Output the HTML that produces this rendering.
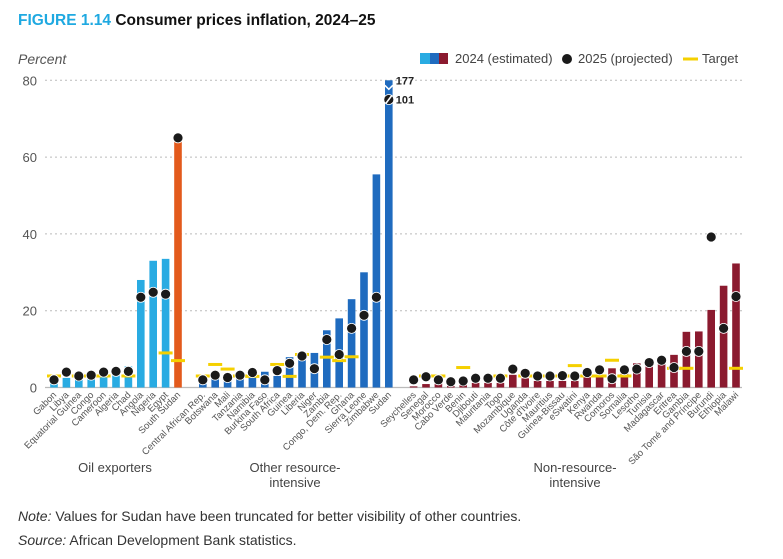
<!DOCTYPE html>
<html><head><meta charset="utf-8">
<style>
body{margin:0;background:#fff;width:783px;height:554px;overflow:hidden;font-family:"Liberation Sans",Arial,sans-serif;}
svg text{font-family:"Liberation Sans",Arial,sans-serif;}
</style></head>
<body>
<svg id="chart" width="783" height="554" xmlns="http://www.w3.org/2000/svg">
<text x="18" y="25" font-size="15.5" font-weight="bold" fill="#111"><tspan fill="#1fa9e1">FIGURE 1.14</tspan> Consumer prices inflation, 2024–25</text>
<text x="18" y="64" font-size="14" font-style="italic" fill="#555">Percent</text>
<g>
<rect x="420" y="53" width="10" height="11" fill="#29abe2"/><rect x="430" y="53" width="9" height="11" fill="#1f6bbf"/><rect x="439" y="53" width="9" height="11" fill="#8b1a2f"/>
<text x="455" y="63" font-size="13" fill="#444">2024 (estimated)</text>
<circle cx="567" cy="59" r="5" fill="#1a1a1a"/>
<text x="578" y="63" font-size="13" fill="#444">2025 (projected)</text>
<rect x="683" y="57.5" width="15" height="3" fill="#f5d000"/>
<text x="702" y="63" font-size="13" fill="#444">Target</text>
</g>
<g id="grid"></g>
<g id="bars"></g>
<g id="marks"></g>
<g id="xlabels"></g>
<text x="115" y="472" font-size="13" fill="#444" text-anchor="middle">Oil exporters</text>
<text x="295" y="472" font-size="13" fill="#444" text-anchor="middle">Other resource-</text>
<text x="295" y="487" font-size="13" fill="#444" text-anchor="middle">intensive</text>
<text x="575" y="472" font-size="13" fill="#444" text-anchor="middle">Non-resource-</text>
<text x="575" y="487" font-size="13" fill="#444" text-anchor="middle">intensive</text>
<text x="18" y="521" font-size="14" fill="#333"><tspan font-style="italic">Note:</tspan> Values for Sudan have been truncated for better visibility of other countries.</text>
<text x="18" y="545" font-size="14" fill="#333"><tspan font-style="italic">Source:</tspan> African Development Bank statistics.</text>
</svg>
<script>
const countries=["Gabon","Libya","Equatorial Guinea","Congo","Cameroon","Algeria","Chad","Angola","Nigeria","Egypt","South Sudan",
"Central African Rep.","Botswana","Mali","Tanzania","Namibia","Burkina Faso","South Africa","Guinea","Liberia","Niger","Zambia","Congo, Dem. Rep.","Ghana","Sierra Leone","Zimbabwe","Sudan",
"Seychelles","Senegal","Morocco","Cabo Verde","Benin","Djibouti","Mauritania","Togo","Mozambique","Uganda","Côte d'Ivoire","Mauritius","Guinea-Bissau","eSwatini","Kenya","Rwanda","Comoros","Somalia","Lesotho","Tunisia","Madagascar","Eritrea","Gambia","São Tomé and Príncipe","Burundi","Ethiopia","Malawi"];
const groups=[0,0,0,0,0,0,0,0,0,0,0, 1,1,1,1,1,1,1,1,1,1,1,1,1,1,1,1, 2,2,2,2,2,2,2,2,2,2,2,2,2,2,2,2,2,2,2,2,2,2,2,2,2,2,2];
const v2024=[1.5,2.5,2,3,3.5,4,5.5,28,33,33.5,65,
1.2,2.3,1.8,2.3,2.8,4.1,3,7.9,8.8,9,14.9,18,23,30,55.5,177,
0.3,0.9,1,0.4,0.6,1.2,1.2,1.2,3.3,2.4,1.7,1.7,1.7,1.7,2.8,3.3,5,4,6.3,5.9,6.1,8.5,14.5,14.6,20.2,26.5,32.3];
const v2025=[2,4,3,3.2,4,4.2,4.2,23.5,24.8,24.3,65,
2,3.2,2.6,3.2,3.9,2,4.4,6.3,8.2,4.9,12.5,8.6,15.4,18.8,23.5,101,
2,2.8,2,1.5,1.7,2.4,2.4,2.4,4.8,3.7,3,3,3.1,3,3.9,4.6,2.3,4.6,4.8,6.5,7.1,5.2,9.4,9.4,39.2,15.4,23.7];
const targets=[3,null,3,3,3,null,3,null,null,9,7,
3,6,4.8,3,2.9,null,6,2.9,8.6,null,7.9,7,8,null,null,null,
null,3,3,null,5.2,null,null,3,null,3,3,null,3,5.7,3,3,7.1,3,null,null,null,5,5,null,null,null,5];
const yTicks=[0,20,40,60,80];
const colors=["#29abe2","#1f6bbf","#8b1a2f"];
const NS="http://www.w3.org/2000/svg";
const Y0=387.5,PX=3.84,X0=54,STEP=12.4,YMAX=80;
function y(v){return Y0-Math.min(v,YMAX)*PX;}
function xpos(i){return X0+(i+groups[i])*STEP;}
function mk(t,a,p){const e=document.createElementNS(NS,t);for(const k in a)e.setAttribute(k,a[k]);p.appendChild(e);return e;}
const grid=document.getElementById('grid');
yTicks.forEach(t=>{
 if(t>0){const l=mk('line',{x1:45,x2:742,y1:y(t),y2:y(t),stroke:'#bbb','stroke-dasharray':'2,3'},grid);
 
 }
 const tx=mk('text',{x:37,y:y(t)+5,'font-size':13,fill:'#555','text-anchor':'end'},grid);tx.textContent=t;
 
 
});
const base=mk('line',{x1:45,x2:742,y1:Y0,y2:Y0,stroke:'#bbb','stroke-width':1.2},grid);


const bars=document.getElementById('bars'),marks=document.getElementById('marks'),xl=document.getElementById('xlabels');
countries.forEach((c,i)=>{
 const x=xpos(i);
 const col=c==="South Sudan"?"#e35a1c":colors[groups[i]];
 const b=mk('rect',{x:x-3.8,y:y(v2024[i]),width:7.6,height:Y0-y(v2024[i]),fill:col},bars);
 
 
 if(targets[i]!==null){const t=mk('rect',{x:x-7,y:y(targets[i])-1.5,width:14,height:3,fill:'#f5d000'},marks);
 
 }
 let dv=v2025[i]>YMAX?75:v2025[i];
 const d=mk('circle',{cx:x,cy:y(dv),r:5,fill:'#1a1a1a',stroke:'#fff','stroke-width':0.8},marks);
 
 
 const lb=mk('text',{x:x+3,y:Y0+8,'font-size':9.5,fill:'#555','text-anchor':'end',transform:`rotate(-45 ${x+3} ${Y0+8})`},xl);
 lb.textContent=c;
 
 
 if(v2024[i]>YMAX){
  mk('polyline',{points:`${x-4},${y(YMAX)+5} ${x},${y(YMAX)+9} ${x+4},${y(YMAX)+5}`,fill:'none',stroke:'#fff','stroke-width':1.5},marks);
  const a=mk('text',{x:x+7,y:y(YMAX)+4,'font-size':11,'font-weight':'bold',fill:'#222'},marks);a.textContent=v2024[i];
  
  
 }
 if(v2025[i]>YMAX){
  mk('line',{x1:x-3,y1:y(dv)+4,x2:x+3,y2:y(dv)-4,stroke:'#fff','stroke-width':1.5},marks);
  const a=mk('text',{x:x+7,y:y(dv)+4,'font-size':11,'font-weight':'bold',fill:'#222'},marks);a.textContent=v2025[i];
  
  
 }
});
</script>
</body></html>
